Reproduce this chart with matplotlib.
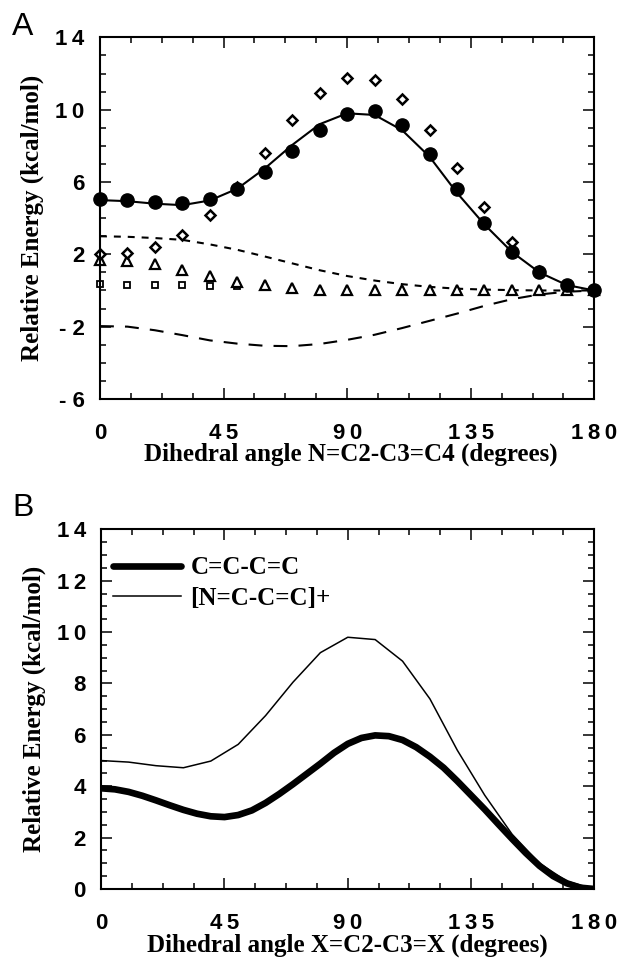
import matplotlib
matplotlib.use("Agg")
import matplotlib.pyplot as plt
from matplotlib.ticker import MultipleLocator

# ---------------------------------------------------------------------------
# Data (angles in degrees, energies in kcal/mol)
# ---------------------------------------------------------------------------
angles = [0, 10, 20, 30, 40, 50, 60, 70, 80, 90,
          100, 110, 120, 130, 140, 150, 160, 170, 180]

# Panel A: total energy (filled circles) and the fitted curve
total_points = [5.05, 5.0, 4.87, 4.85, 5.05, 5.64, 6.56, 7.7, 8.9, 9.78,
                9.91, 9.14, 7.54, 5.59, 3.74, 2.14, 1.05, 0.3, 0.0]
fit_curve = [5.0, 4.94, 4.8, 4.72, 4.98, 5.63, 6.75, 8.05, 9.2, 9.8,
             9.71, 8.87, 7.4, 5.4, 3.65, 2.13, 1.0, 0.3, 0.0]

# open diamonds (0..160 deg)
diamond_angles = [0, 10, 20, 30, 40, 50, 60, 70, 80, 90,
                  100, 110, 120, 130, 140, 150, 160]
diamond_vals = [2.0, 2.08, 2.4, 3.06, 4.2, 5.7, 7.59, 9.44, 10.92, 11.73,
                11.62, 10.61, 8.9, 6.78, 4.63, 2.69, 1.1]

# open triangles
triangle_vals = [1.68, 1.62, 1.44, 1.13, 0.81, 0.48, 0.3, 0.12, 0.02, 0.0,
                 0.0, 0.0, 0.0, 0.0, 0.0, 0.0, 0.0, 0.0, 0.0]

# open squares (only visible up to 50 deg)
square_angles = [0, 10, 20, 30, 40, 50]
square_vals = [0.35, 0.3, 0.3, 0.28, 0.27, 0.24]

# short dashed and long dashed components
short_dash = [3.0, 2.97, 2.9, 2.8, 2.55, 2.25, 1.88, 1.5, 1.12, 0.8,
              0.55, 0.35, 0.2, 0.1, 0.05, 0.02, 0.0, 0.0, 0.0]
long_dash = [-1.97, -2.0, -2.2, -2.47, -2.76, -2.94, -3.06, -3.08, -2.96,
             -2.73, -2.45, -2.08, -1.68, -1.28, -0.85, -0.48, -0.22, -0.07,
             0.0]

# Panel B: butadiene (read every 5 deg) vs. protonated azabutadiene
fine_angles = list(range(0, 181, 5))
butadiene = [3.92, 3.88, 3.78, 3.63, 3.45, 3.26, 3.08, 2.93, 2.83, 2.8,
             2.88, 3.06, 3.35, 3.7, 4.08, 4.48, 4.88, 5.3, 5.65, 5.88,
             5.98, 5.95, 5.8, 5.52, 5.15, 4.72, 4.2, 3.65, 3.1, 2.52,
             1.95, 1.4, 0.9, 0.5, 0.22, 0.05, 0.0]
aza_cation = [5.0, 4.94, 4.8, 4.72, 4.98, 5.63, 6.75, 8.05, 9.2, 9.8,
              9.71, 8.87, 7.4, 5.4, 3.65, 2.13, 1.0, 0.3, 0.0]
legend_labels = ["C=C-C=C", "[N=C-C=C]+"]

x_ticks = [0, 45, 90, 135, 180]
x_ticklabels = ["0", "4\u20095", "9\u20090", "1\u20093\u20095", "1\u20098\u20090"]
yA_ticks = [-6, -2, 2, 6, 10, 14]
yA_ticklabels = ["- 6", "- 2", "2", "6", "1\u20090", "1\u20094"]
yB_ticks = [0, 2, 4, 6, 8, 10, 12, 14]
yB_ticklabels = ["0", "2", "4", "6", "8", "1\u20090", "1\u20092", "1\u20094"]

# ---------------------------------------------------------------------------
plt.rcParams['lines.scale_dashes'] = False
serif = ['Liberation Serif', 'DejaVu Serif']
sans = ['Liberation Sans', 'DejaVu Sans']

fig = plt.figure(figsize=(6.21, 9.59), dpi=100)
axA = fig.add_axes([0.161, 0.584, 0.796, 0.377])
axB = fig.add_axes([0.163, 0.073, 0.794, 0.375])


def style_axes(ax, yticks, yticklabels, yminor, ylim):
    ax.set_xlim(0, 180)
    ax.set_ylim(*ylim)
    ax.set_xticks(x_ticks)
    ax.set_xticklabels(x_ticklabels)
    ax.set_yticks(yticks)
    ax.set_yticklabels(yticklabels)
    ax.xaxis.set_minor_locator(MultipleLocator(11.25))
    ax.yaxis.set_minor_locator(MultipleLocator(yminor))
    ax.tick_params(which='both', direction='in', top=True, right=True,
                   width=1.1, color='black')
    ax.tick_params(which='major', length=8)
    ax.tick_params(which='minor', length=4.5)
    ax.tick_params(axis='x', which='major', pad=17)
    ax.tick_params(axis='y', which='major', pad=11)
    for lab in ax.get_xticklabels() + ax.get_yticklabels():
        lab.set_family(sans)
        lab.set_fontweight('bold')
        lab.set_fontsize(16)
    for sp in ax.spines.values():
        sp.set_linewidth(1.5)
    ax.set_ylabel("Relative Energy (kcal/mol)", family=serif,
                  fontweight='bold', fontsize=18)
    ax.yaxis.set_label_coords(-0.113, 0.5)


# Panel A
axA.plot(angles, fit_curve, color='black', lw=1.5)
axA.plot(angles, short_dash, color='black', lw=1.5, dashes=(5, 5))
axA.plot(angles, long_dash, color='black', lw=1.5, dashes=(10, 8))
axA.plot(square_angles, square_vals, ls='none', marker='s', ms=4,
         mfc='white', mec='black', mew=1.3, clip_on=False)
axA.plot(angles, triangle_vals, ls='none', marker='^', ms=6.5,
         mfc='white', mec='black', mew=1.6, clip_on=False)
axA.plot(diamond_angles, diamond_vals, ls='none', marker='D', ms=5.5,
         mfc='white', mec='black', mew=1.8, clip_on=False)
axA.plot(angles, total_points, ls='none', marker='o', ms=9.5,
         color='black', clip_on=False, zorder=5)
style_axes(axA, yA_ticks, yA_ticklabels, 1, (-6, 14))
axA.set_xlabel("Dihedral angle N=C2-C3=C4 (degrees)", family=serif,
               fontweight='bold', fontsize=18)
axA.xaxis.set_label_coords(0.508, -0.122)

# Panel B
axB.plot(fine_angles, butadiene, color='black', lw=4.8,
         label=legend_labels[0], solid_joinstyle='round',
         solid_capstyle='round')
axB.plot(angles, aza_cation, color='black', lw=1.1, label=legend_labels[1])
style_axes(axB, yB_ticks, yB_ticklabels, 0.5, (0, 14))
axB.set_xlabel("Dihedral angle X=C2-C3=X (degrees)", family=serif,
               fontweight='bold', fontsize=18)
axB.xaxis.set_label_coords(0.5, -0.125)
axB.legend(loc='upper left', bbox_to_anchor=(0.024, 0.925), frameon=False,
           borderpad=0, borderaxespad=0, handlelength=2.7,
           handletextpad=0.4, labelspacing=0.3,
           prop={'family': serif, 'weight': 'bold', 'size': 18})

# Panel letters
fig.text(0.02, 0.972, "A", family=sans, fontsize=23, ha='left', va='center')
fig.text(0.02, 0.47, "B", family=sans, fontsize=23, ha='left', va='center')

fig.savefig("out.png", dpi=100)
